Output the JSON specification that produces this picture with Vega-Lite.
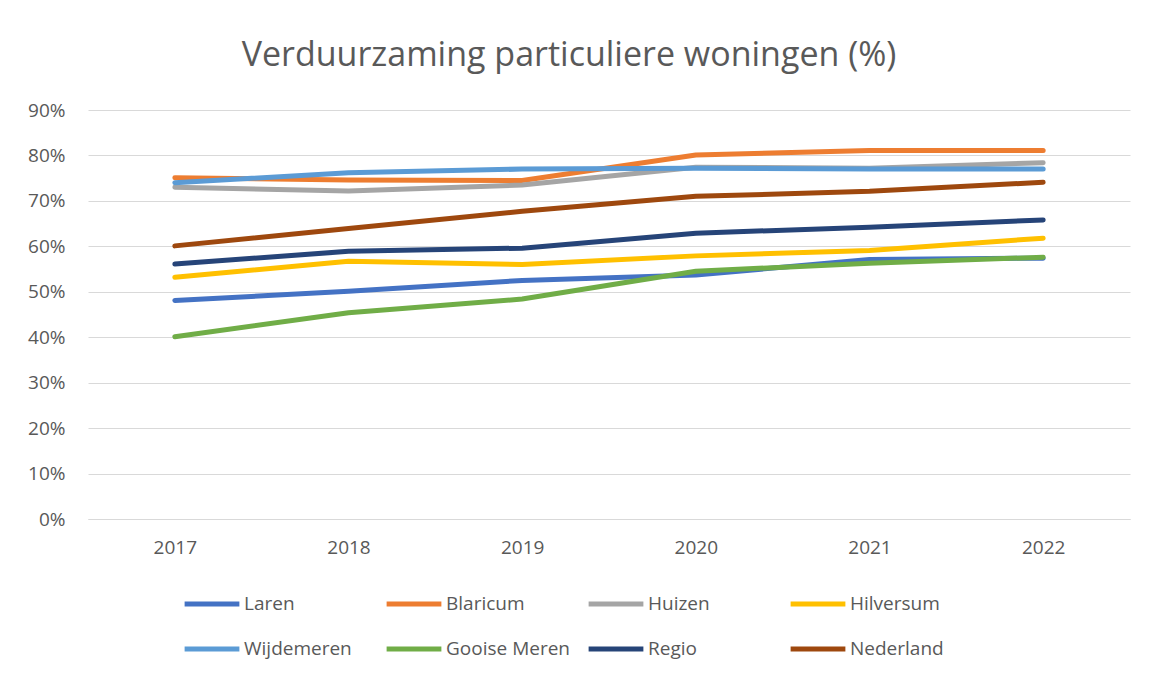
{
  "$schema": "https://vega.github.io/schema/vega-lite/v6.json",
  "width": 1042,
  "height": 409,
  "autosize": {"type": "none"},
  "padding": {"left": 88, "top": 110, "right": 21, "bottom": 158},
  "background": "white",
  "config": {
    "font": "Open Sans",
    "view": {"stroke": null}
  },
  "title": {
    "text": "Verduurzaming particuliere woningen (%)",
    "fontSize": 34,
    "fontWeight": "normal",
    "color": "#595959",
    "font": "Open Sans",
    "anchor": "middle",
    "dx": -40,
    "offset": 28
  },
  "data": {
    "values": [
      {"jaar": "2017", "gebied": "Laren", "waarde": 0.481},
      {"jaar": "2018", "gebied": "Laren", "waarde": 0.501},
      {"jaar": "2019", "gebied": "Laren", "waarde": 0.525},
      {"jaar": "2020", "gebied": "Laren", "waarde": 0.537},
      {"jaar": "2021", "gebied": "Laren", "waarde": 0.571},
      {"jaar": "2022", "gebied": "Laren", "waarde": 0.574},
      {"jaar": "2017", "gebied": "Blaricum", "waarde": 0.751},
      {"jaar": "2018", "gebied": "Blaricum", "waarde": 0.746},
      {"jaar": "2019", "gebied": "Blaricum", "waarde": 0.745},
      {"jaar": "2020", "gebied": "Blaricum", "waarde": 0.801},
      {"jaar": "2021", "gebied": "Blaricum", "waarde": 0.811},
      {"jaar": "2022", "gebied": "Blaricum", "waarde": 0.811},
      {"jaar": "2017", "gebied": "Huizen", "waarde": 0.730},
      {"jaar": "2018", "gebied": "Huizen", "waarde": 0.722},
      {"jaar": "2019", "gebied": "Huizen", "waarde": 0.735},
      {"jaar": "2020", "gebied": "Huizen", "waarde": 0.774},
      {"jaar": "2021", "gebied": "Huizen", "waarde": 0.772},
      {"jaar": "2022", "gebied": "Huizen", "waarde": 0.784},
      {"jaar": "2017", "gebied": "Hilversum", "waarde": 0.532},
      {"jaar": "2018", "gebied": "Hilversum", "waarde": 0.567},
      {"jaar": "2019", "gebied": "Hilversum", "waarde": 0.560},
      {"jaar": "2020", "gebied": "Hilversum", "waarde": 0.579},
      {"jaar": "2021", "gebied": "Hilversum", "waarde": 0.591},
      {"jaar": "2022", "gebied": "Hilversum", "waarde": 0.618},
      {"jaar": "2017", "gebied": "Wijdemeren", "waarde": 0.740},
      {"jaar": "2018", "gebied": "Wijdemeren", "waarde": 0.762},
      {"jaar": "2019", "gebied": "Wijdemeren", "waarde": 0.770},
      {"jaar": "2020", "gebied": "Wijdemeren", "waarde": 0.772},
      {"jaar": "2021", "gebied": "Wijdemeren", "waarde": 0.770},
      {"jaar": "2022", "gebied": "Wijdemeren", "waarde": 0.770},
      {"jaar": "2017", "gebied": "Gooise Meren", "waarde": 0.401},
      {"jaar": "2018", "gebied": "Gooise Meren", "waarde": 0.454},
      {"jaar": "2019", "gebied": "Gooise Meren", "waarde": 0.484},
      {"jaar": "2020", "gebied": "Gooise Meren", "waarde": 0.545},
      {"jaar": "2021", "gebied": "Gooise Meren", "waarde": 0.563},
      {"jaar": "2022", "gebied": "Gooise Meren", "waarde": 0.576},
      {"jaar": "2017", "gebied": "Regio", "waarde": 0.561},
      {"jaar": "2018", "gebied": "Regio", "waarde": 0.589},
      {"jaar": "2019", "gebied": "Regio", "waarde": 0.596},
      {"jaar": "2020", "gebied": "Regio", "waarde": 0.629},
      {"jaar": "2021", "gebied": "Regio", "waarde": 0.642},
      {"jaar": "2022", "gebied": "Regio", "waarde": 0.658},
      {"jaar": "2017", "gebied": "Nederland", "waarde": 0.601},
      {"jaar": "2018", "gebied": "Nederland", "waarde": 0.639},
      {"jaar": "2019", "gebied": "Nederland", "waarde": 0.677},
      {"jaar": "2020", "gebied": "Nederland", "waarde": 0.710},
      {"jaar": "2021", "gebied": "Nederland", "waarde": 0.721},
      {"jaar": "2022", "gebied": "Nederland", "waarde": 0.741}
    ]
  },
  "mark": {"type": "line", "strokeWidth": 5, "strokeCap": "round", "strokeJoin": "round"},
  "encoding": {
    "x": {
      "field": "jaar",
      "type": "ordinal",
      "scale": {"type": "point", "padding": 0.5},
      "axis": {
        "title": null,
        "labelAngle": 0,
        "labelFontSize": 19,
        "labelColor": "#595959",
        "labelPadding": 19,
        "ticks": false,
        "domain": true,
        "domainColor": "#D9D9D9",
        "domainWidth": 1,
        "grid": false
      }
    },
    "y": {
      "field": "waarde",
      "type": "quantitative",
      "scale": {"domain": [0, 0.9], "nice": false},
      "axis": {
        "title": null,
        "format": ".0%",
        "values": [0, 0.1, 0.2, 0.3, 0.4, 0.5, 0.6, 0.7, 0.8, 0.9],
        "labelFontSize": 19,
        "labelColor": "#595959",
        "labelPadding": 23,
        "ticks": false,
        "domain": false,
        "grid": true,
        "gridColor": "#D9D9D9",
        "gridWidth": 1
      }
    },
    "color": {
      "field": "gebied",
      "type": "nominal",
      "sort": ["Laren", "Blaricum", "Huizen", "Hilversum", "Wijdemeren", "Gooise Meren", "Regio", "Nederland"],
      "scale": {
        "domain": ["Laren", "Blaricum", "Huizen", "Hilversum", "Wijdemeren", "Gooise Meren", "Regio", "Nederland"],
        "range": ["#4472C4", "#ED7D31", "#A5A5A5", "#FFC000", "#5B9BD5", "#70AD47", "#264478", "#9E480E"]
      },
      "legend": {
        "title": null,
        "orient": "none",
        "legendX": 94,
        "legendY": 464,
        "direction": "horizontal",
        "columns": 4,
        "gridAlign": "all",
        "columnPadding": 8,
        "rowPadding": 5,
        "symbolType": "stroke",
        "symbolSize": 3000,
        "symbolStrokeWidth": 5,
        "labelFontSize": 19,
        "labelColor": "#595959",
        "labelOffset": 2,
        "labelLimit": 200
      }
    }
  }
}
